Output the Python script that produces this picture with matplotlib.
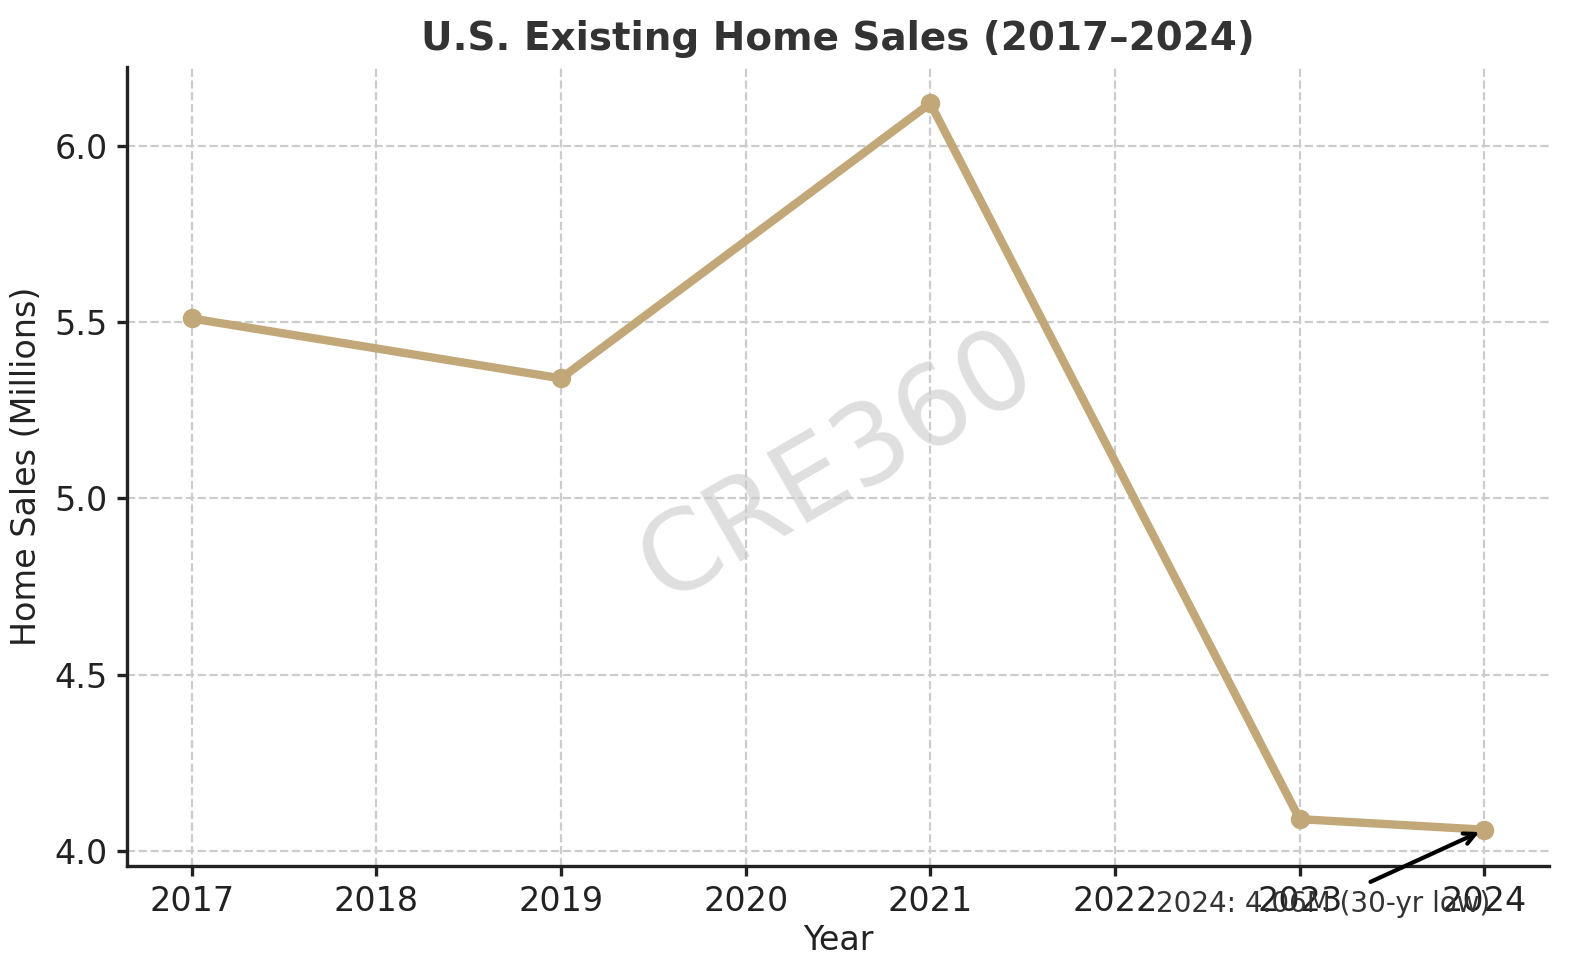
import matplotlib
matplotlib.use('Agg')
import matplotlib.pyplot as plt

years = [2017, 2019, 2021, 2023, 2024]
sales = [5.51, 5.34, 6.12, 4.09, 4.06]
xticks = [2017, 2018, 2019, 2020, 2021, 2022, 2023, 2024]
yticks = [4.0, 4.5, 5.0, 5.5, 6.0]

line_color = '#C2A878'

fig = plt.figure(figsize=(1579 / 200, 980 / 200), dpi=200)
ax = fig.add_axes([0.0804, 0.1163, 0.9006, 0.8153])

ax.plot(years, sales, color=line_color, linewidth=3, marker='o', markersize=6, zorder=3)

ax.set_xticks(xticks)
ax.set_yticks(yticks)
ax.tick_params(labelsize=12, colors='#222222', width=1.2)
ax.grid(True, linestyle='--', color='#cccccc', linewidth=0.8)
ax.set_axisbelow(True)
for side in ['top', 'right']:
    ax.spines[side].set_visible(False)
for side in ['left', 'bottom']:
    ax.spines[side].set_color('#222222')
    ax.spines[side].set_linewidth(1.2)

ax.set_title('U.S. Existing Home Sales (2017–2024)', fontsize=14, fontweight='bold', color='#333333')
ax.set_xlabel('Year', fontsize=12, color='#222222', labelpad=2)
ax.set_ylabel('Home Sales (Millions)', fontsize=12, color='#222222')

# label sits under the last two ticks, as in the original
ax.annotate('2024: 4.06M (30-yr low)', xy=(years[-1], sales[-1]), xytext=(2022.22, 3.85),
            fontsize=10, color='#333333', va='center', annotation_clip=False,
            arrowprops=dict(arrowstyle='->', color='black', lw=1.5))

ax.text(0.5, 0.5, 'CRE360', transform=ax.transAxes, fontsize=40, color='gray', alpha=0.25,
        rotation=30, ha='center', va='center', zorder=0)

fig.savefig('out.png', dpi=200)
